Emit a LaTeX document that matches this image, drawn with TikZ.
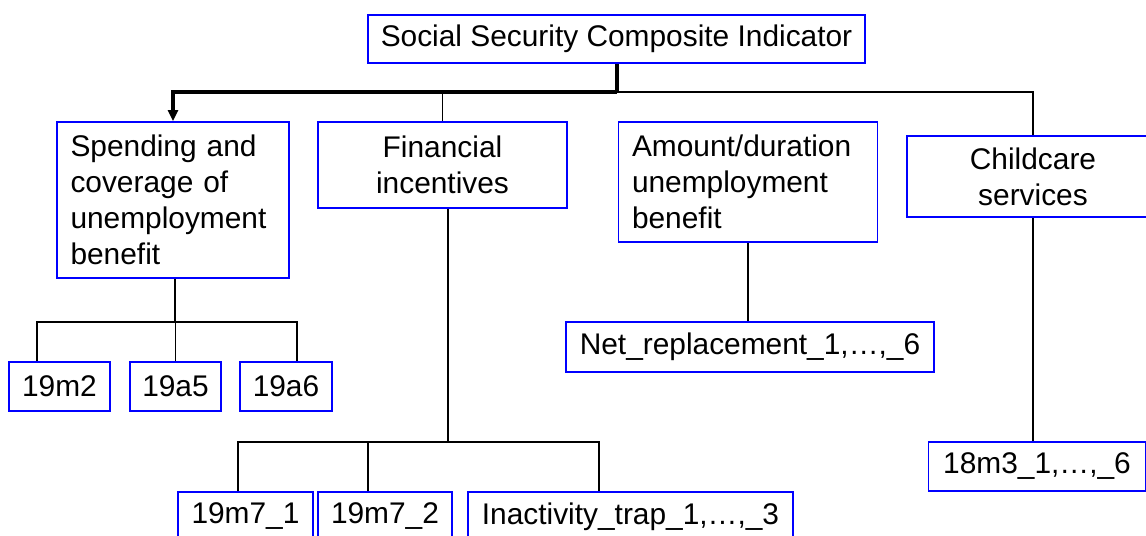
\documentclass[tikz,border=0pt]{standalone}
\usepackage{fontspec}
\setmainfont{Liberation Sans}
\usetikzlibrary{arrows.meta}

\begin{document}
\begin{tikzpicture}[x=0.02cm,y=-0.02cm,
  box/.style={draw=blue,line width=1.1pt,inner sep=0pt,align=center,
    font=\fontsize{17}{20.5}\selectfont},
  leftbox/.style={box,align=left,inner xsep=0.27cm},
  link/.style={line width=1pt},
  mainlink/.style={line width=2.2pt}]
\clip (0,0) rectangle (1146,535);
\node[box,minimum width=9.94cm,minimum height=0.96cm] (sci) at (616.5,39) {Social Security Composite Indicator};
\node[leftbox,text width=4.1cm,minimum height=3.12cm] (spend) at (173,200) {Spending and\\coverage of\\unemployment\\benefit};
\node[box,minimum width=4.98cm,minimum height=1.72cm] (fin) at (442.5,165) {Financial\\incentives};
\node[leftbox,text width=4.64cm,minimum height=2.4cm] (amt) at (748,182) {Amount/duration\\unemployment\\benefit};
\node[box,minimum width=5.04cm,minimum height=1.62cm] (child) at (1033,176.5) {Childcare\\services};
\node[box,minimum width=2.02cm,minimum height=0.98cm] (m2) at (59.5,386.5) {19m2};
\node[box,minimum width=1.82cm,minimum height=0.98cm] (a5) at (175.5,386.5) {19a5};
\node[box,minimum width=1.84cm,minimum height=0.98cm] (a6) at (286,386.5) {19a6};
\node[box,minimum width=7.36cm,minimum height=1cm] (net) at (750,347) {Net\_replacement\_1,…,\_6};
\node[box,minimum width=4.34cm,minimum height=0.98cm] (m3) at (1037,466.5) {18m3\_1,…,\_6};
\node[box,minimum width=2.7cm,minimum height=0.98cm] (m71) at (245.5,516.5) {19m7\_1};
\node[box,minimum width=2.68cm,minimum height=0.98cm] (m72) at (385,516.5) {19m7\_2};
\node[box,minimum width=6.5cm,minimum height=0.98cm] (inact) at (630.5,516.5) {Inactivity\_trap\_1,…,\_3};
\coordinate (hub) at (617,92);
\coordinate (sbar) at (175,322);
\coordinate (fbar) at (448,442);
\draw[mainlink] (sci.south -| hub) -- (hub);
\draw[mainlink,-{Triangle[length=0.22cm,width=0.2cm]}] (hub) -| (spend.north);
\draw[link] (hub) -| (child.north);
\draw[link] (fin.north) -- (fin.north |- hub);
\draw[link] (spend.south -| sbar) -- (sbar);
\draw[link] ([xshift=-0.45cm]m2.north) |- (sbar) -| ([xshift=0.22cm]a6.north);
\draw[link] (a5.north) -- (a5.north |- sbar);
\draw[link] (fin.south -| fbar) -- (fbar);
\draw[link] ([xshift=-0.15cm]m71.north) |- (fbar) -| ([xshift=-0.63cm]inact.north);
\draw[link] ([xshift=-0.34cm]m72.north) -- ([xshift=-0.34cm]m72.north |- fbar);
\draw[link] (amt.south) -- (amt.south |- net.north);
\draw[link] (child.south) -- (child.south |- m3.north);
\end{tikzpicture}
\end{document}
